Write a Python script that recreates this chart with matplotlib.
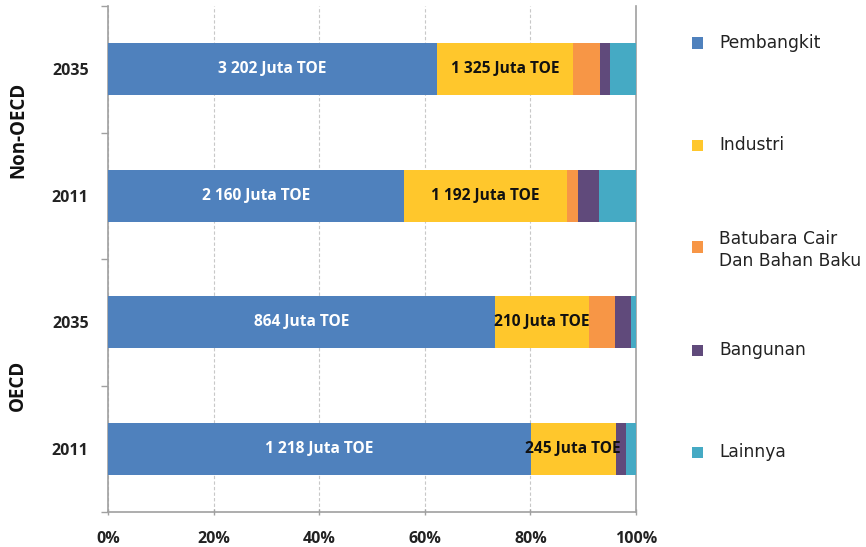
import matplotlib
matplotlib.use("Agg")
import matplotlib.pyplot as plt
from matplotlib.patches import Rectangle
import numpy as np

# Rows from bottom to top
regions = ["OECD", "OECD", "Non-OECD", "Non-OECD"]
years = ["2011", "2035", "2011", "2035"]

# Coal demand by sector (Juta TOE)
pembangkit = [1218, 864, 2160, 3202]
industri = [245, 210, 1192, 1325]
batubara_cair = [0, 59, 77, 257]
bangunan = [29, 34, 154, 103]
lainnya = [30, 12, 270, 252]

series_names = ["Pembangkit", "Industri", "Batubara Cair\nDan Bahan Baku", "Bangunan", "Lainnya"]
series_colors = ["#4F81BD", "#FFC72C", "#F79646", "#604A7B", "#45AAC4"]

x_ticks = [0, 20, 40, 60, 80, 100]
x_ticklabels = ["0%", "20%", "40%", "60%", "80%", "100%"]

data = np.array([pembangkit, industri, batubara_cair, bangunan, lainnya], dtype=float)
shares = data / data.sum(axis=0) * 100

fig = plt.figure(figsize=(8.66, 5.47), dpi=100)
W, H = 866, 547
ax = fig.add_axes([108 / W, 1 - 512 / H, 528 / W, 506 / H])

y = np.arange(len(years))
left = np.zeros(len(years))
for i, (vals, color) in enumerate(zip(shares, series_colors)):
    ax.barh(y, vals, left=left, height=0.41, color=color, edgecolor="none", zorder=3)
    if i < 2:
        for k in range(len(years)):
            cx = left[k] + vals[k] / 2
            txt = f"{int(data[i][k]):,}".replace(",", " ") + " Juta TOE"
            ax.text(cx, y[k], txt, ha="center", va="center",
                    color="white" if i == 0 else "#111111",
                    fontsize=11.2, fontweight="bold", family="Open Sans", zorder=4)
    left += vals

ax.set_xlim(0, 100)
ax.set_ylim(-0.5, len(years) - 0.5)
ax.set_xticks(x_ticks)
ax.set_xticklabels(x_ticklabels, fontsize=11.5, fontweight="bold", family="Open Sans", color="#222222")
ax.set_yticks(y)
ax.set_yticklabels(years, fontsize=11.5, fontweight="bold", family="Open Sans", color="#222222")
ax.set_yticks(np.arange(-0.5, len(years)), minor=True)
ax.tick_params(axis="y", which="major", length=0, pad=14)
ax.tick_params(axis="y", which="minor", length=5, color="#A0A0A0", width=1)
ax.tick_params(axis="x", length=5, color="#A0A0A0", width=1, pad=11)
ax.tick_params(axis="x", direction="inout")

ax.grid(axis="x", color="#C8C8C8", linestyle=(0, (3, 2)), linewidth=0.8, zorder=0)
for s in ["left", "bottom", "right"]:
    ax.spines[s].set_color("#A0A0A0")
    ax.spines[s].set_linewidth(1.2)
ax.spines["top"].set_visible(False)

# Region group labels
for name, yc in [("Non-OECD", 130), ("OECD", 385)]:
    fig.text(18 / W, 1 - yc / H, name, rotation=90, ha="center", va="center",
             fontsize=13.5, fontweight="bold", family="Open Sans", color="#111111")

# Legend entries
legend_y = [43, 145, 250, 350, 452]
for name, color, ly in zip(series_names, series_colors, legend_y):
    my = 247 if "\n" in name else ly
    fig.patches.append(Rectangle(((697 - 5.5) / W, 1 - (my + 5.5) / H), 11 / W, 11 / H,
                                 transform=fig.transFigure, facecolor=color, edgecolor="none"))
    fig.text(719 / W, 1 - ly / H, name, ha="left", va="center", fontsize=12.3,
             family="DejaVu Sans", color="#222222", linespacing=1.3)

fig.savefig("out.png", dpi=100)
